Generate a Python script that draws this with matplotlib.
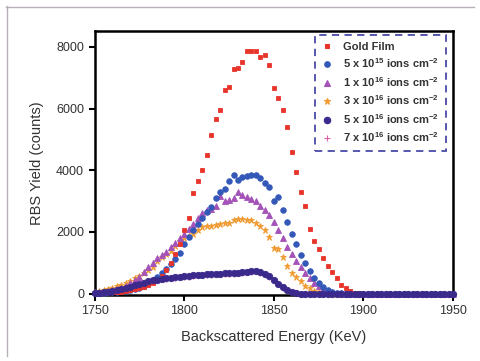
import matplotlib
matplotlib.use("Agg")
import matplotlib.pyplot as plt
from matplotlib.lines import Line2D

plt.rcParams['font.family'] = ['Liberation Sans', 'DejaVu Sans']
plt.rcParams['mathtext.fontset'] = 'custom'
plt.rcParams['mathtext.rm'] = 'Liberation Sans'
plt.rcParams['mathtext.bf'] = 'Liberation Sans:bold'

# Energy channels (keV)
energy = [1750, 1752.5, 1755, 1757.5, 1760, 1762.5, 1765, 1767.5, 1770, 1772.5,
          1775, 1777.5, 1780, 1782.5, 1785, 1787.5, 1790, 1792.5, 1795, 1797.5,
          1800, 1802.5, 1805, 1807.5, 1810, 1812.5, 1815, 1817.5, 1820, 1822.5,
          1825, 1827.5, 1830, 1832.5, 1835, 1837.5, 1840, 1842.5, 1845, 1847.5,
          1850, 1852.5, 1855, 1857.5, 1860, 1862.5, 1865, 1867.5, 1870, 1872.5,
          1875, 1877.5, 1880, 1882.5, 1885, 1887.5, 1890, 1892.5, 1895, 1897.5,
          1900, 1902.5, 1905, 1907.5, 1910, 1912.5, 1915, 1917.5, 1920, 1922.5,
          1925, 1927.5, 1930, 1932.5, 1935, 1937.5, 1940, 1942.5, 1945, 1947.5, 1950]

gold_film = [30, 30, 40, 40, 50, 60, 70, 90, 110, 140,
             180, 230, 290, 360, 450, 580, 780, 1000, 1300, 1600,
             2050, 2450, 3250, 3650, 4000, 4500, 5150, 5650, 5950, 6600,
             6700, 7280, 7320, 7520, 7880, 7880, 7850, 7680, 7740, 7400,
             6650, 6350, 5950, 5400, 4600, 3950, 3300, 2850, 2100, 1700,
             1450, 1150, 900, 700, 500, 280, 180, 80, 30, 10,
             0, 0, 0, 0, 0, 0, 0, 0, 0, 0,
             0, 0, 0, 0, 0, 0, 0, 0, 0, 0, 0]

dose_5e15 = [20, 25, 30, 40, 50, 60, 80, 100, 130, 160,
             200, 260, 330, 420, 530, 660, 800, 950, 1130, 1330,
             1600, 1850, 2050, 2250, 2450, 2650, 2820, 3100, 3280, 3380,
             3650, 3850, 3700, 3780, 3820, 3850, 3860, 3750, 3600, 3450,
             3000, 3130, 2720, 2320, 1950, 1620, 1250, 1000, 740, 500,
             350, 230, 110, 50, 20, 10, 0, 0, 0, 0,
             0, 0, 0, 0, 0, 0, 0, 0, 0, 0,
             0, 0, 0, 0, 0, 0, 0, 0, 0, 0, 0]

dose_1e16 = [40, 50, 70, 90, 120, 150, 200, 260, 340, 430,
             550, 700, 850, 1000, 1150, 1250, 1350, 1500, 1650, 1800,
             1950, 2100, 2250, 2450, 2600, 2720, 2750, 2850, 3150, 2990,
             3050, 3100, 3300, 3200, 3130, 3080, 3000, 2850, 2700, 2550,
             2320, 2070, 1800, 1520, 1280, 1050, 860, 680, 500, 350,
             240, 150, 90, 50, 25, 10, 0, 0, 0, 0,
             0, 0, 0, 0, 0, 0, 0, 0, 0, 0,
             0, 0, 0, 0, 0, 0, 0, 0, 0, 0, 0]

dose_3e16 = [60, 80, 110, 150, 200, 240, 290, 350, 420, 500,
             580, 660, 760, 880, 1050, 1180, 1300, 1400, 1550, 1700,
             1800, 1880, 1950, 2050, 2150, 2200, 2180, 2230, 2250, 2280,
             2300, 2380, 2420, 2430, 2400, 2380, 2300, 2180, 2050, 1850,
             1480, 1440, 1200, 900, 680, 540, 400, 260, 170, 90,
             40, 20, 10, 0, 0, 0, 0, 0, 0, 0,
             0, 0, 0, 0, 0, 0, 0, 0, 0, 0,
             0, 0, 0, 0, 0, 0, 0, 0, 0, 0, 0]

dose_5e16 = [20, 30, 50, 70, 90, 120, 150, 190, 230, 270,
             310, 350, 400, 430, 460, 490, 510, 520, 540, 550,
             560, 570, 590, 610, 620, 630, 640, 650, 650, 660,
             660, 670, 680, 690, 710, 730, 740, 700, 650, 560,
             460, 330, 220, 120, 60, 20, 5, 0, 0, 0,
             0, 0, 0, 0, 0, 0, 0, 0, 0, 0,
             0, 0, 0, 0, 0, 0, 0, 0, 0, 0,
             0, 0, 0, 0, 0, 0, 0, 0, 0, 0, 0]

dose_7e16 = [15, 25, 40, 60, 80, 110, 140, 175, 215, 255,
             295, 335, 380, 410, 440, 470, 490, 505, 520, 530,
             540, 550, 570, 590, 600, 610, 620, 630, 635, 640,
             645, 650, 660, 670, 690, 710, 720, 680, 630, 540,
             440, 310, 200, 110, 50, 15, 5, 0, 0, 0,
             0, 0, 0, 0, 0, 0, 0, 0, 0, 0,
             0, 0, 0, 0, 0, 0, 0, 0, 0, 0,
             0, 0, 0, 0, 0, 0, 0, 0, 0, 0, 0]

labels = ["Gold Film",
          r"5 x 10$^{\mathbf{15}}$ ions cm$^{\mathbf{-2}}$",
          r"1 x 10$^{\mathbf{16}}$ ions cm$^{\mathbf{-2}}$",
          r"3 x 10$^{\mathbf{16}}$ ions cm$^{\mathbf{-2}}$",
          r"5 x 10$^{\mathbf{16}}$ ions cm$^{\mathbf{-2}}$",
          r"7 x 10$^{\mathbf{16}}$ ions cm$^{\mathbf{-2}}$"]

fig = plt.figure(figsize=(4.8, 3.61), dpi=100)
ax = fig.add_axes([0.197, 0.183, 0.747, 0.730])

series = [
    (gold_film, 's', '#e8352c', 3.4, 5),
    (dose_5e15, 'o', '#3358b8', 4.0, 4),
    (dose_1e16, '^', '#a452b8', 4.4, 3),
    (dose_3e16, '*', '#f09a30', 5.0, 2),
    (dose_5e16, 'o', '#3b2a8c', 4.6, 6),
    (dose_7e16, '+', '#e060a8', 4.5, 1),
]
handles = []
for (vals, mk, col, ms, z), lab in zip(series, labels):
    ax.plot(energy, vals, linestyle='none', marker=mk, color=col,
            markersize=ms, markeredgewidth=0.6 if mk != '+' else 1.0,
            zorder=z, clip_on=False)
    handles.append(Line2D([], [], linestyle='none', marker=mk, color=col,
                          markersize=ms, markeredgewidth=0.8))

ax.set_xlim(1750, 1950)
ax.set_ylim(-40, 8500)
ax.set_xticks([1750, 1800, 1850, 1900, 1950])
ax.set_yticks([0, 2000, 4000, 6000, 8000])

for s in ax.spines.values():
    s.set_linewidth(1.8)
    s.set_color('black')
ax.tick_params(direction='out', length=4, width=1.5, labelsize=9,
               labelcolor='#333333', pad=3.5)

ax.set_xlabel("Backscattered Energy (KeV)", fontsize=10.5, color='#333333', labelpad=9)
ax.set_ylabel("RBS Yield (counts)", fontsize=10.5, color='#333333', labelpad=9)

leg = ax.legend(handles, labels, loc='upper right',
                bbox_to_anchor=(446 / 480, 1 - 35 / 361),
                bbox_transform=fig.transFigure,
                prop={'weight': 'bold', 'size': 8},
                handlelength=1.0, handletextpad=1.0, labelspacing=0.42,
                borderpad=0.6, borderaxespad=0, fancybox=False,
                frameon=True, framealpha=1)
fr = leg.get_frame()
fr.set_edgecolor('#4a4aa8')
fr.set_linestyle((0, (4, 3)))
fr.set_linewidth(1.3)
for t in leg.get_texts():
    t.set_color('#333333')
leg.set_zorder(10)

# light outer frame (top and left edges)
fig.add_artist(Line2D([6 / 480, 474 / 480], [1 - 6.5 / 361, 1 - 6.5 / 361],
                      transform=fig.transFigure, color='#b8b0b8', linewidth=1.0))
fig.add_artist(Line2D([6.5 / 480, 6.5 / 480], [1 - 6 / 361, 1 - 356 / 361],
                      transform=fig.transFigure, color='#b8b0b8', linewidth=1.0))

fig.savefig("out.png", dpi=100)
